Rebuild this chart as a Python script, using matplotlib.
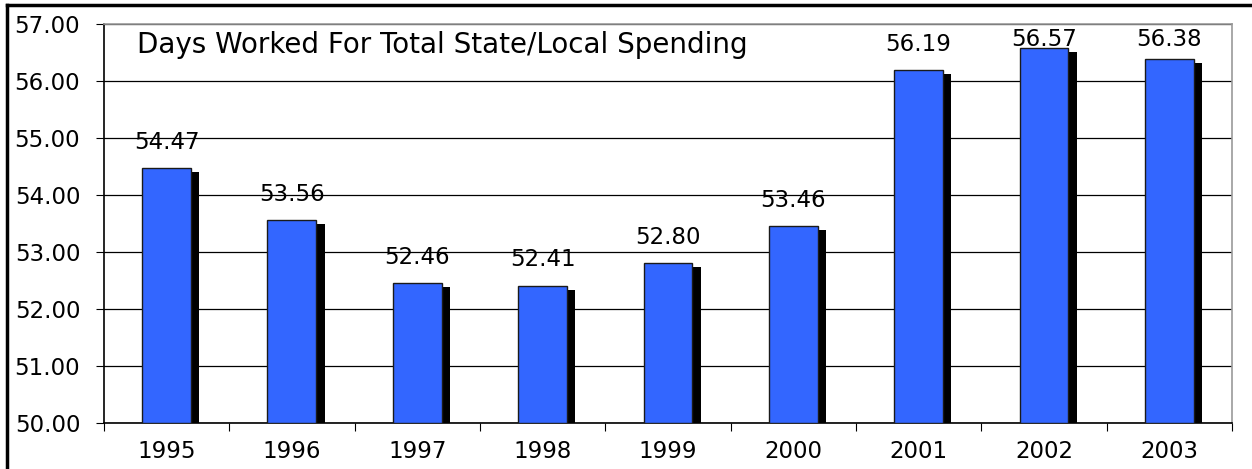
import matplotlib
matplotlib.use("Agg")
import matplotlib.pyplot as plt
from matplotlib.lines import Line2D
import numpy as np

plt.rcParams['font.family'] = ['DejaVu Sans']

years = ['1995', '1996', '1997', '1998', '1999', '2000', '2001', '2002', '2003']
days = [54.47, 53.56, 52.46, 52.41, 52.80, 53.46, 56.19, 56.57, 56.38]
title = 'Days Worked For Total State/Local Spending'

fig = plt.figure(figsize=(12.52, 4.69), dpi=100)
ax = fig.add_axes([0.083, 0.098, 0.901, 0.851])

x = np.arange(len(years))
width = 0.39
base = 50.0
vals = np.array(days)

# drop shadow behind each bar
ax.bar(x + 0.065, vals - 0.07 - base, width, bottom=base, color='black',
       zorder=2)
ax.bar(x, vals - base, width, bottom=base, color='#3366FF',
       edgecolor='#1a1a1a', linewidth=1.0, zorder=3)

for xi, v in zip(x, vals):
    ax.text(xi, min(v + 0.45, 56.72), f'{v:.2f}', ha='center', va='center',
            fontsize=16.5, zorder=4)

ax.text(0.029, 0.948, title, transform=ax.transAxes, fontsize=20,
        ha='left', va='center')

ax.set_xlim(-0.5, len(years) - 0.5)
ax.set_ylim(50, 57)
ax.set_yticks(np.arange(50, 58, 1))
ax.set_yticklabels([f'{t:.2f}' for t in np.arange(50, 58, 1)], fontsize=16.5)
ax.yaxis.grid(True, color='black', linewidth=0.9)
ax.set_axisbelow(True)

# x ticks sit on the category boundaries, labels in between
ax.set_xticks(np.arange(-0.5, len(years), 1))
ax.set_xticklabels([])
ax.set_xticks(x, minor=True)
ax.set_xticklabels(years, minor=True, fontsize=16.5)
ax.tick_params(axis='x', which='minor', length=0, pad=12)
ax.tick_params(axis='x', which='major', length=6, color='black')
ax.tick_params(axis='y', length=6, color='black', pad=11)

ax.spines['left'].set_color('black')
ax.spines['bottom'].set_color('black')
ax.spines['top'].set_color('#999999')
ax.spines['right'].set_color('#999999')
for s in ax.spines.values():
    s.set_linewidth(1.2)

# outer frame around the chart
fig.add_artist(Line2D([0.0055, 0.0055], [0, 0.99], transform=fig.transFigure,
                      color='black', linewidth=2.5))
fig.add_artist(Line2D([0.0055, 1.0], [0.99, 0.99], transform=fig.transFigure,
                      color='black', linewidth=2.5))

fig.savefig('out.png', dpi=100)
